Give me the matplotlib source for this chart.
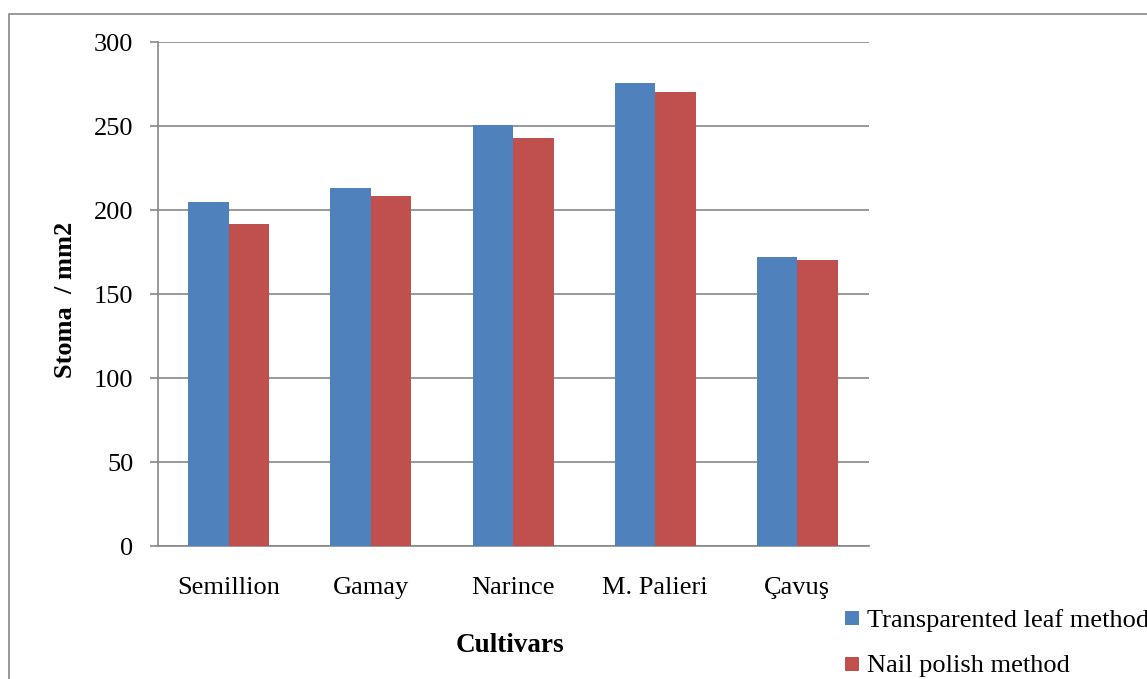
import matplotlib
matplotlib.use("Agg")
import matplotlib.pyplot as plt
from matplotlib.patches import Rectangle
import numpy as np

# Stomata density per cultivar, two counting methods
cultivars = ["Semillion", "Gamay", "Narince", "M. Palieri", "Çavuş"]
transparented_leaf = [205, 213, 251, 276, 172]
nail_polish = [192, 208.5, 243, 270.5, 170.5]
series_labels = ["Transparented leaf method", "Nail polish method"]
y_ticks = [0, 50, 100, 150, 200, 250, 300]

BLUE = "#4F81BD"
RED = "#C0504D"
GREY = "#878787"
FS = 19

plt.rcParams["font.family"] = ["Liberation Serif", "DejaVu Serif"]

W, H = 1147, 679
fig = plt.figure(figsize=(W / 100, H / 100), dpi=100)

ax_l, ax_r, ax_t, ax_b = 157.7, 868.5, 42.3, 546.3
ax = fig.add_axes([ax_l / W, 1 - ax_b / H, (ax_r - ax_l) / W, (ax_b - ax_t) / H])

x = np.arange(len(cultivars))
bw = 0.285
ax.bar(x - bw / 2, transparented_leaf, bw, color=BLUE, linewidth=0, zorder=3)
ax.bar(x + bw / 2, nail_polish, bw, color=RED, linewidth=0, zorder=3)

ax.set_xlim(-0.5, len(cultivars) - 0.5)
ax.set_ylim(0, 300)
ax.set_yticks(y_ticks)
ax.set_xticks(x)
ax.set_xticklabels(cultivars)

ax.yaxis.grid(True, color=GREY, linewidth=1.2, zorder=0)
ax.set_axisbelow(True)
for s in ["top", "right"]:
    ax.spines[s].set_visible(False)
for s in ["left", "bottom"]:
    ax.spines[s].set_color(GREY)
    ax.spines[s].set_linewidth(1.2)

ax.tick_params(axis="y", direction="out", length=5.5, width=1.2, color=GREY,
               pad=12, labelsize=FS)
ax.tick_params(axis="x", length=0, pad=22, labelsize=FS)

ax.set_ylabel("Stoma  / mm2", fontsize=FS, fontweight="bold", va="center")
ax.yaxis.set_label_coords((65 - ax_l) / (ax_r - ax_l), (ax_b - 300) / (ax_b - ax_t))
ax.set_xlabel("Cultivars", fontsize=19.5, fontweight="bold", va="baseline")
ax.xaxis.set_label_coords((510 - ax_l) / (ax_r - ax_l), (ax_b - 651.7) / (ax_b - ax_t))

# Legend at the lower right
for color, label, sq_top, base in [(BLUE, series_labels[0], 610.7, 626.7),
                                    (RED, series_labels[1], 656.7, 671.7)]:
    fig.patches.append(Rectangle((845 / W, 1 - (sq_top + 14) / H), 14 / W, 14 / H,
                                 transform=fig.transFigure, facecolor=color,
                                 edgecolor="none"))
    fig.text(866.7 / W, 1 - base / H, label, fontsize=FS, va="baseline", ha="left")

# Chart frame
fig.patches.append(Rectangle((9 / W, -0.1), 2, (H - 13.7) / H + 0.1,
                             transform=fig.transFigure, fill=False,
                             edgecolor=GREY, linewidth=1.2))

fig.savefig("out.png", dpi=100)
